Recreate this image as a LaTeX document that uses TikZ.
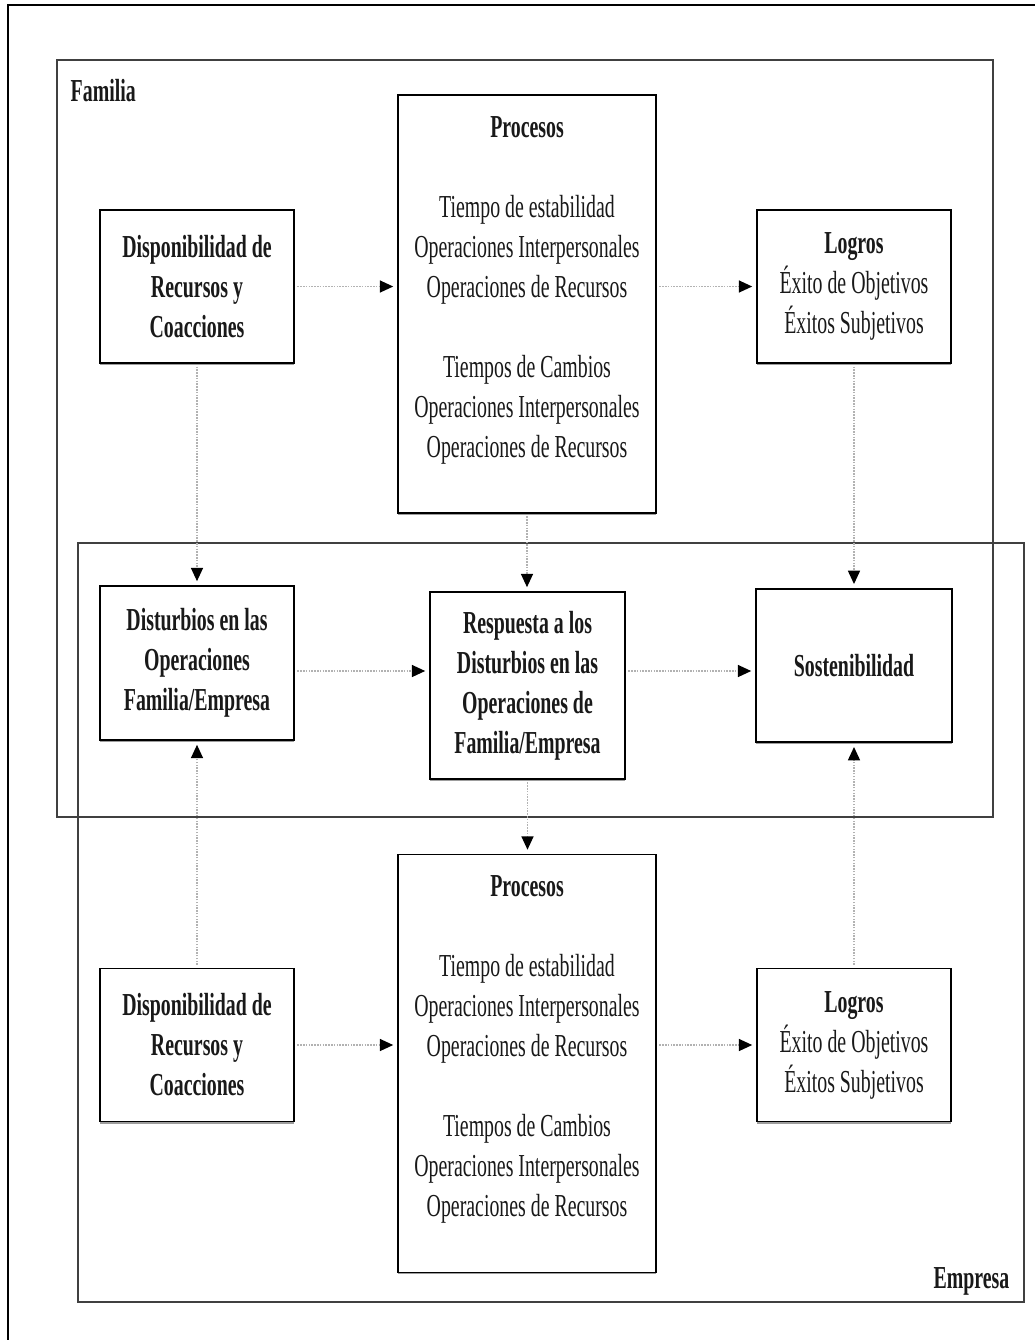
\documentclass[tikz,border=0pt]{standalone}
\usepackage{fontspec}
\setmainfont{Liberation Serif}[FakeStretch=0.62]
\usetikzlibrary{arrows.meta,shadows}
\begin{document}
\begin{tikzpicture}[x=0.75pt,y=-0.75pt,
  every node/.style={font=\fontsize{24pt}{30pt}\selectfont, text=black!90},
  box/.style={draw=black, line width=1.2pt, fill=white, align=center, inner sep=0pt,
     drop shadow={shadow xshift=0.3pt, shadow yshift=-1.4pt, opacity=.55, fill=black!70}},
  narrowbox/.style={box, minimum width=145.5pt, minimum height=115pt},
  procbox/.style={box, minimum width=193.5pt, minimum height=313.5pt},
  frame/.style={draw=black!75, line width=1.6pt},
  conn/.style={draw=black!30, line width=1.1pt, densely dotted,
     -{Triangle[length=10pt,width=9pt,color=black]}, shorten >=3pt, shorten <=2pt},
  lbl/.style={font=\fontsize{24pt}{30pt}\selectfont\bfseries}
]
\useasboundingbox (0,0) rectangle (1035,1340);
% outer page frame (cropped)
\draw[line width=1.2pt] (8,1340) -- (8,5) -- (1035,5);
% context frames
\draw[frame] (57,60) rectangle (993,817);
\draw[frame] (78,543) rectangle (1024,1302);
\node[lbl, anchor=west] (familia) at (66,91) {Familia};
\node[lbl, anchor=east] (empresa) at (1014,1281) {Empresa};

% top row (Familia)
\node[narrowbox] (d1) at (197,286.5) {\textbf{Disponibilidad de}\\\textbf{Recursos y}\\\textbf{Coacciones}};
\node[procbox] (p1) at (527,304) {};
\node[align=center] (p1t) at (527,290) {\textbf{Procesos}\\[30pt]Tiempo de estabilidad\\Operaciones Interpersonales\\Operaciones de Recursos\\[30pt]Tiempos de Cambios\\Operaciones Interpersonales\\Operaciones de Recursos};
\node[narrowbox] (l1) at (854,286.5) {\textbf{Logros}\\Éxito de Objetivos\\Éxitos Subjetivos};

% middle row
\node[narrowbox, minimum height=115.5pt] (dist) at (197,663) {\textbf{Disturbios en las}\\\textbf{Operaciones}\\\textbf{Familia/Empresa}};
\node[box, minimum width=146.25pt, minimum height=140.25pt] (resp) at (527.5,685.5) {\textbf{Respuesta a los}\\\textbf{Disturbios en las}\\\textbf{Operaciones de}\\\textbf{Familia/Empresa}};
\node[box, minimum width=147pt, minimum height=115pt] (sost) at (854,665.5) {\textbf{Sostenibilidad}};

% bottom row (Empresa)
\node[narrowbox] (d2) at (197,1045) {\textbf{Disponibilidad de}\\\textbf{Recursos y}\\\textbf{Coacciones}};
\node[procbox] (p2) at (527,1063.5) {};
\node[align=center] (p2t) at (527,1049) {\textbf{Procesos}\\[30pt]Tiempo de estabilidad\\Operaciones Interpersonales\\Operaciones de Recursos\\[30pt]Tiempos de Cambios\\Operaciones Interpersonales\\Operaciones de Recursos};
\node[narrowbox] (l2) at (854,1045) {\textbf{Logros}\\Éxito de Objetivos\\Éxitos Subjetivos};

% connectors
\coordinate (midrow) at (0,671);
\draw[conn] (d1.east) -- (p1.west |- d1.east);
\draw[conn] (p1.east |- l1.west) -- (l1.west);
\draw[conn] (d1.south) -- (dist.north);
\draw[conn] (p1.south) -- (p1.south |- resp.north);
\draw[conn] (l1.south) -- (sost.north);
\draw[conn] (dist.east |- midrow) -- (resp.west |- midrow);
\draw[conn] (resp.east |- midrow) -- (sost.west |- midrow);
\draw[conn] (resp.south) -- (resp.south |- p2.north);
\draw[conn] (d2.north) -- (dist.south);
\draw[conn] (l2.north) -- (sost.south);
\draw[conn] (d2.east) -- (p2.west |- d2.east);
\draw[conn] (p2.east |- l2.west) -- (l2.west);
\end{tikzpicture}
\end{document}
